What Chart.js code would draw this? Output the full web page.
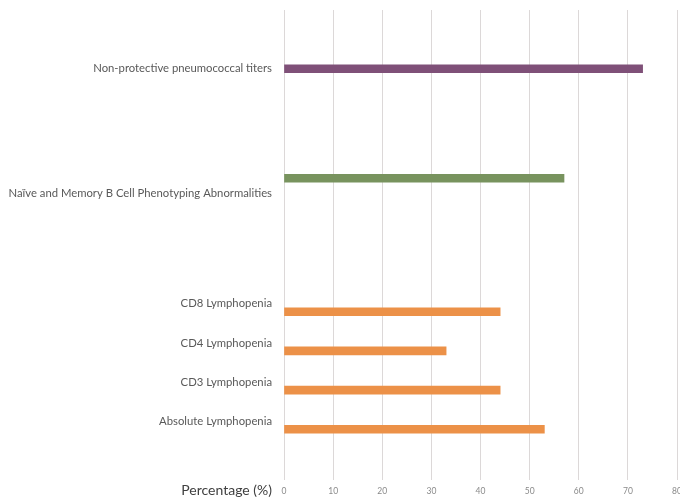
<!DOCTYPE html>
<html>
<head>
<meta charset="utf-8">
<script src="https://cdn.jsdelivr.net/npm/chart.js@4.4.1/dist/chart.umd.min.js"></script>
<style>
  html, body { margin: 0; padding: 0; background: #ffffff; overflow: hidden; }
  #wrap { position: relative; width: 680px; height: 499px; }
</style>
</head>
<body>
<div id="wrap"><canvas id="chart"></canvas></div>
<script>
// Rows listed top to bottom; blank rows keep the spacing between groups.
// The B cell row carries a leading empty line so its text sits just under its bar.
const categories = [
  '',
  'Non-protective pneumococcal titers',
  '',
  '',
  ['', 'Naïve and Memory B Cell Phenotyping Abnormalities'],
  '',
  '',
  'CD8 Lymphopenia',
  'CD4 Lymphopenia',
  'CD3 Lymphopenia',
  'Absolute Lymphopenia',
  ''
];

// Percentage of patients per finding
const bCellValues       = [null, null, null, null, 57, null, null, null, null, null, null, null];
const titerValues       = [null, 73, null, null, null, null, null, null, null, null, null, null];
const lymphopeniaValues = [null, null, null, null, null, null, null, 44, 33, 44, 53, null];

const xTicks = [0, 10, 20, 30, 40, 50, 60, 70, 80];
const axisTitle = 'Percentage (%)';

// Axis title drawn to the left of the tick labels, level with them
const axisTitlePlugin = {
  id: 'axisTitleLeft',
  afterDraw(chart) {
    const { ctx, chartArea } = chart;
    ctx.save();
    ctx.font = '14px Lato, "Open Sans", sans-serif';
    ctx.fillStyle = '#404040';
    ctx.textAlign = 'right';
    ctx.textBaseline = 'middle';
    ctx.fillText(axisTitle, chartArea.left - 12, chartArea.bottom + 10.5);
    ctx.restore();
  }
};

new Chart(document.getElementById('chart'), {
  type: 'bar',
  data: {
    labels: categories,
    datasets: [
      { label: 'B cell', data: bCellValues, backgroundColor: '#78935e' },
      { label: 'Titers', data: titerValues, backgroundColor: '#7f5078' },
      { label: 'Lymphopenia', data: lymphopeniaValues, backgroundColor: '#ec9148' }
    ]
  },
  options: {
    indexAxis: 'y',
    responsive: true,
    maintainAspectRatio: false,
    animation: false,
    barThickness: 8,
    layout: { padding: { top: 10, right: 3, left: 0, bottom: 0 } },
    plugins: {
      legend: { display: false },
      tooltip: { enabled: false }
    },
    scales: {
      x: {
        type: 'linear',
        min: 0,
        max: 80,
        afterBuildTicks(scale) { scale.ticks = xTicks.map(v => ({ value: v })); },
        afterFit(scale) {
          scale.height = 19;
          // let the last tick label run off the right edge
          scale.paddingLeft = 0;
          scale.paddingRight = 0;
        },
        grid: { color: '#dcd8d8', lineWidth: 1, drawTicks: false },
        border: { display: false },
        ticks: {
          padding: 6,
          color: '#8a8a8a',
          font: { size: 8.5, family: 'Lato, "Open Sans", sans-serif' }
        }
      },
      y: {
        type: 'category',
        afterFit(scale) {
          scale.width = 284;
          scale.paddingTop = 0;
          scale.paddingBottom = 0;
        },
        grid: { display: false, drawTicks: false },
        border: { display: false },
        ticks: {
          autoSkip: false,
          padding: 12,
          color: '#595959',
          font: { size: 11.3, family: 'Lato, "Open Sans", sans-serif' }
        }
      }
    }
  },
  plugins: [axisTitlePlugin]
});
</script>
</body>
</html>
